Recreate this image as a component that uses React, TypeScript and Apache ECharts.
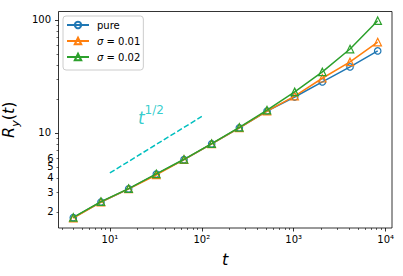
import React, { useEffect, useRef } from 'react';
import * as echarts from 'echarts';

// ---- data ----
const times = [4, 8, 16, 32, 64, 128, 256, 512, 1024, 2048, 4096, 8192];
const purePoints = [1.78, 2.45, 3.2, 4.33, 5.8, 8.0, 11.1, 15.6, 20.8, 28.3, 38.4, 53.2];
const sigma001Points = [1.76, 2.44, 3.2, 4.25, 5.8, 8.0, 11.1, 15.6, 21.2, 30.5, 42.5, 63.8];
const sigma002Points = [1.79, 2.47, 3.22, 4.35, 5.85, 8.05, 11.2, 15.9, 23.1, 34.7, 55.3, 98.6];
const seriesNames = ['pure', 'σ = 0.01', 'σ = 0.02'];
const guideTimes = [10, 100];
const guideValues = [4.43, 14.0];
const guideLabelPoint = [20.2, 11.5];

const xMajorTicks = [10, 100, 1000, 10000];
const xMinorTicks = [3, 4, 5, 6, 7, 8, 9, 20, 30, 40, 50, 60, 70, 80, 90, 200, 300, 400, 500, 600, 700, 800, 900, 2000, 3000, 4000, 5000, 6000, 7000, 8000, 9000];
const yMajorTicks = [10, 100];
const yMinorTicks = [2, 3, 4, 5, 6, 7, 8, 9, 20, 30, 40, 50, 60, 70, 80, 90];
const yMinorLabelsA = [2, 3, 4, 5];
const yMinorLabelsB = [6];

const X_MIN = Math.pow(10, 0.441);
const X_MAX = Math.pow(10, 4.069);
const Y_MIN = Math.pow(10, 0.159);
const Y_MAX = Math.pow(10, 2.075);

const FONT = 'DejaVu Sans';
const COLORS = ['#1f77b4', '#ff7f0e', '#2ca02c'];
const CYAN = '#00bfbf';
const SUP: Record<number, string> = { 1: '¹', 2: '²', 3: '³', 4: '⁴' };

function pairs(xs: number[], ys: number[]) {
  return xs.map((x, i) => [x, ys[i]]);
}

function buildOption() {
  const baseX = {
    type: 'log' as const,
    logBase: 10,
    min: X_MIN,
    max: X_MAX,
    gridIndex: 0,
    position: 'bottom' as const,
    splitLine: { show: false },
    axisLine: { show: false },
    minorTick: { show: false },
  };
  const baseY = {
    type: 'log' as const,
    logBase: 10,
    min: Y_MIN,
    max: Y_MAX,
    gridIndex: 0,
    position: 'left' as const,
    splitLine: { show: false },
    axisLine: { show: false },
    minorTick: { show: false },
  };
  const labelStyle = { color: '#000', fontFamily: FONT, fontSize: 10, hideOverlap: false };
  const intLabel = (v: number) => String(Math.round(v));

  const mainSeries = [purePoints, sigma001Points, sigma002Points].map((vals, i) => ({
    name: seriesNames[i],
    type: 'line',
    xAxisIndex: 0,
    yAxisIndex: 0,
    data: pairs(times, vals),
    symbol: i === 0 ? 'circle' : 'triangle',
    symbolSize: i === 0 ? 6.5 : 7.5,
    showSymbol: true,
    lineStyle: { color: COLORS[i], width: 1.5 },
    itemStyle: { color: 'rgba(255,255,255,0)', borderColor: COLORS[i], borderWidth: 1.2 },
    emphasis: { disabled: true },
    z: 3 + i,
  }));

  return {
    animation: false,
    backgroundColor: '#fff',
    textStyle: { fontFamily: FONT },
    grid: {
      left: 58.5,
      top: 11.5,
      right: 11,
      bottom: 48,
      outerBoundsMode: 'none',
      containLabel: false,
      show: true,
      borderColor: '#000',
      borderWidth: 0.8,
      backgroundColor: 'transparent',
    },
    legend: {
      data: seriesNames,
      orient: 'vertical',
      left: 63,
      top: 16,
      padding: [3, 3, 7, 3],
      itemGap: 4,
      itemWidth: 22,
      itemHeight: 8,
      borderColor: '#cccccc',
      borderWidth: 1,
      borderRadius: 3,
      backgroundColor: 'rgba(255,255,255,0.8)',
      formatter: (name: string) =>
        name.startsWith('σ') ? `{ip|σ}{n|${name.slice(1)}}` : `{np|${name}}`,
      textStyle: {
        color: '#000',
        fontFamily: FONT,
        fontSize: 10,
        lineHeight: 12,
        rich: {
          ip: { fontStyle: 'italic', fontSize: 10, fontFamily: FONT, color: '#000', lineHeight: 12, padding: [0, 0, 0, 3] },
          np: { fontSize: 10, fontFamily: FONT, color: '#000', lineHeight: 12, padding: [0, 0, 0, 3] },
          n: { fontSize: 10, fontFamily: FONT, color: '#000', lineHeight: 12 },
        },
      },
    },
    xAxis: [
      {
        ...baseX,
        name: 't',
        nameLocation: 'middle',
        nameGap: 23,
        nameTextStyle: { fontFamily: FONT, fontSize: 16, fontStyle: 'italic', color: '#000' },
        axisTick: { show: true, length: 3.5, lineStyle: { color: '#000', width: 0.8 }, customValues: xMajorTicks },
        axisLabel: {
          ...labelStyle,
          margin: 6,
          customValues: xMajorTicks,
          formatter: (v: number) => '10' + SUP[Math.round(Math.log10(v))],
        },
      },
      {
        ...baseX,
        axisTick: { show: true, length: 2, lineStyle: { color: '#000', width: 0.6 }, customValues: xMinorTicks },
        axisLabel: { show: false },
      },
    ],
    yAxis: [
      {
        ...baseY,
        name: '{i|R}{sub|y}{n|(}{i|t}{n|)}',
        nameLocation: 'middle',
        nameGap: 32,
        nameTextStyle: {
          color: '#000',
          rich: {
            i: { fontFamily: FONT, fontSize: 16, fontStyle: 'italic', color: '#000', lineHeight: 21, verticalAlign: 'top' },
            n: { fontFamily: FONT, fontSize: 16, color: '#000', lineHeight: 21, verticalAlign: 'top' },
            sub: { fontFamily: FONT, fontSize: 11, fontStyle: 'italic', color: '#000', verticalAlign: 'bottom' },
          },
        },
        axisTick: { show: true, length: 3.5, lineStyle: { color: '#000', width: 0.8 }, customValues: yMajorTicks },
        axisLabel: { ...labelStyle, margin: 7.5, customValues: yMajorTicks, formatter: intLabel },
      },
      {
        ...baseY,
        axisTick: { show: true, length: 2, lineStyle: { color: '#000', width: 0.6 }, customValues: yMinorTicks },
        axisLabel: { ...labelStyle, margin: 5, customValues: yMinorLabelsA, formatter: intLabel },
      },
      {
        ...baseY,
        axisTick: { show: false },
        axisLabel: { ...labelStyle, margin: 5, customValues: yMinorLabelsB, formatter: intLabel },
      },
    ],
    series: [
      ...mainSeries,
      {
        name: 'guide',
        type: 'line',
        xAxisIndex: 0,
        yAxisIndex: 0,
        data: pairs(guideTimes, guideValues),
        showSymbol: false,
        symbol: 'none',
        lineStyle: { color: CYAN, width: 1.5, type: [5.5, 2.4] },
        emphasis: { disabled: true },
        z: 2,
      },
      {
        name: 'guideLabel',
        type: 'scatter',
        xAxisIndex: 0,
        yAxisIndex: 0,
        data: [guideLabelPoint],
        symbolSize: 0,
        silent: true,
        label: {
          show: true,
          position: [0, 0],
          align: 'left',
          verticalAlign: 'bottom',
          formatter: '{t|t}{s|1/2}',
          rich: {
            t: { fontFamily: FONT, fontSize: 17, fontStyle: 'italic', color: CYAN, lineHeight: 22, verticalAlign: 'bottom' },
            s: { fontFamily: FONT, fontSize: 12, color: CYAN, verticalAlign: 'top' },
          },
        },
        z: 2,
      },
    ],
  };
}

export default function App() {
  const ref = useRef<HTMLDivElement>(null);
  useEffect(() => {
    if (!ref.current) return;
    const chart = echarts.init(ref.current, null, { renderer: 'svg' });
    chart.setOption(buildOption() as any);
    return () => chart.dispose();
  }, []);
  return (
    <div
      ref={ref}
      style={{ position: 'fixed', left: 0, top: 0, width: 403, height: 276, background: '#fff' }}
    />
  );
}
